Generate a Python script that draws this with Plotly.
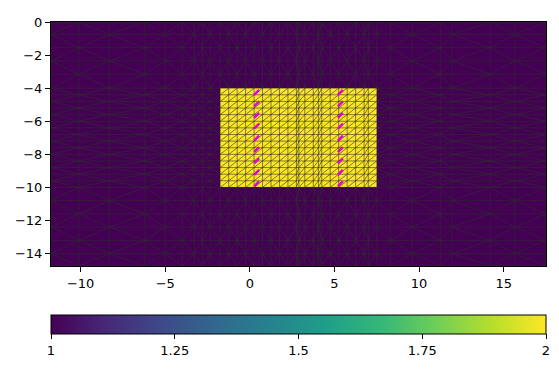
import plotly.graph_objects as go

# mesh node coordinates
x_nodes = [-11.75, -10.1, -8.3, -6.2, -5.0, -4.0, -3.3, -2.8, -2.35, -1.75, -1.25,
           -0.75, -0.25, 0.25, 0.75, 1.25, 1.75, 2.25, 2.75, 2.9, 3.25, 3.75, 4.05,
           4.25, 4.75, 5.25, 5.75, 6.25, 6.75, 7.0, 7.5, 8.3, 9.6, 11.25, 11.95,
           14.2, 15.65, 17.5]
y_nodes = [0.0, -0.75, -1.55, -2.35, -3.15, -4.0, -4.4, -4.8, -5.2, -5.6, -6.0,
           -6.4, -6.8, -7.2, -7.6, -8.0, -8.4, -8.8, -9.2, -9.6, -10.0, -10.8,
           -11.6, -12.4, -13.2, -14.0, -14.75]

# anomaly block (value 2) inside background (value 1)
block_x = [-1.75, 7.5]
block_y = [-10.0, -4.0]
background_value = 1
block_value = 2

# sensor positions
sensor_x = [0.4, 5.35]
sensor_y = [-4.26, -4.95, -5.64, -6.3, -7.02, -7.71, -8.4, -9.09, -9.78]

cbar_ticks = [1, 1.25, 1.5, 1.75, 2]
cbar_labels = ["1", "1.25", "1.5", "1.75", "2"]

# cell values
z = []
for j in range(len(y_nodes) - 1):
    row = []
    yc = 0.5 * (y_nodes[j] + y_nodes[j + 1])
    for i in range(len(x_nodes) - 1):
        xc = 0.5 * (x_nodes[i] + x_nodes[i + 1])
        inside = block_x[0] < xc < block_x[1] and block_y[0] < yc < block_y[1]
        row.append(block_value if inside else background_value)
    z.append(row)

fig = go.Figure()
fig.add_trace(go.Heatmap(
    x=x_nodes, y=y_nodes, z=z, zmin=1, zmax=2, colorscale="Viridis",
    showscale=True, hoverinfo="skip",
    colorbar=dict(orientation="h", x=0.5, xanchor="center", y=-0.2, yanchor="top",
                  len=1, lenmode="fraction", thickness=19, outlinecolor="black",
                  outlinewidth=1, tickvals=cbar_ticks, ticktext=cbar_labels,
                  ticks="outside", ticklen=5, tickcolor="black",
                  tickfont=dict(family="DejaVu Sans", size=13, color="black"),
                  xpad=0, ypad=0),
))

# mesh edges
ex, ey = [], []
for y in y_nodes:
    ex += [x_nodes[0], x_nodes[-1], None]
    ey += [y, y, None]
for x in x_nodes:
    ex += [x, x, None]
    ey += [y_nodes[0], y_nodes[-1], None]
for j in range(len(y_nodes) - 1):
    for i in range(len(x_nodes) - 1):
        x0, x1 = x_nodes[i], x_nodes[i + 1]
        y0, y1 = y_nodes[j + 1], y_nodes[j]
        xc = 0.5 * (x0 + x1)
        yc = 0.5 * (y0 + y1)
        inside = block_x[0] < xc < block_x[1] and block_y[0] < yc < block_y[1]
        if inside or (i + j) % 2 == 0:
            ex += [x0, x1, None]
            ey += [y0, y1, None]
        else:
            ex += [x0, x1, None]
            ey += [y1, y0, None]
fig.add_trace(go.Scatter(x=ex, y=ey, mode="lines", hoverinfo="skip",
                         line=dict(color="rgba(45,45,45,0.85)", width=0.7),
                         showlegend=False))

sx, sy = [], []
for x in sensor_x:
    for y in sensor_y:
        sx.append(x)
        sy.append(y)
fig.add_trace(go.Scatter(x=sx, y=sy, mode="markers", showlegend=False,
                         marker=dict(symbol="line-ne", size=5, color="#e000e0",
                                     line=dict(color="#e000e0", width=2.5))))

axis_common = dict(showgrid=False, zeroline=False, showline=True, linecolor="black",
                   linewidth=1, mirror=True, ticks="outside", ticklen=5,
                   tickcolor="black", ticklabeloverflow="allow",
                   tickfont=dict(family="DejaVu Sans", size=13, color="black"))
fig.update_xaxes(range=[-11.75, 17.5], tickvals=[-10, -5, 0, 5, 10, 15], **axis_common)
fig.update_yaxes(range=[-14.75, 0], tickvals=[0, -2, -4, -6, -8, -10, -12, -14], **axis_common)

fig.update_layout(width=551, height=362, margin=dict(l=41, r=13, t=7, b=104),
                  plot_bgcolor="white", paper_bgcolor="white", showlegend=False)
fig.write_html("out.html")
